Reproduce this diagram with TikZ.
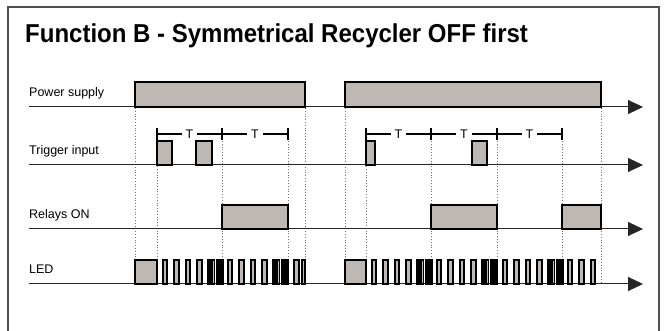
\documentclass[tikz,border=0pt]{standalone}
\usepackage{fontspec}
\setmainfont{Liberation Sans}
\usetikzlibrary{arrows.meta}
\definecolor{boxgray}{RGB}{189,184,179}
\definecolor{framegray}{RGB}{80,80,80}
\begin{document}
\begin{tikzpicture}[x=1pt,y=-1pt]
  \tikzstyle{signal}=[draw=black,line width=2pt,fill=boxgray]
  \tikzstyle{blink}=[draw=black,line width=2pt,fill=boxgray]
  \tikzstyle{fastblink}=[draw=black,line width=1.8pt,fill=boxgray]
  \tikzstyle{axis}=[draw=black!85,line width=1pt,-{Triangle[length=15pt,width=14pt]}]
  \tikzstyle{guide}=[draw=black!55,line width=0.8pt,dotted]
  \tikzstyle{tbar}=[draw=black,line width=2pt]
  \tikzstyle{lbl}=[anchor=base west,inner sep=0pt,font=\fontsize{12.5}{14}\selectfont]
  \tikzstyle{tlbl}=[inner sep=3.5pt,font=\fontsize{12.5}{14}\selectfont]
  \useasboundingbox (0,0) rectangle (667,331);
  % frame and title
  \draw[framegray,line width=2pt] (8,335) -- (8,7) -- (659,7) -- (659,335);
  \node[anchor=base west,inner sep=0pt,font=\bfseries\fontsize{24}{28}\selectfont,yscale=1.08] (title) at (25,43)
    {Function B - Symmetrical Recycler OFF first};
  % dotted guides
  \foreach \x in {135,305,345}
    \draw[guide] (\x,108) -- (\x,259);
  \draw[guide] (601,108) -- (601,284);
  \foreach \x in {157,222,288,366,431,497,562}
    \draw[guide] (\x,141) -- (\x,259);
  % time axes
  \foreach \name/\y/\txt in {ps/107/Power supply,trig/165/Trigger input,rel/229/Relays ON,led/284/LED} {
    \coordinate (\name-a) at (29,\y);
    \coordinate (\name-b) at (643,\y);
    \node[lbl] (\name-lbl) at (29,\y-10) {\txt};
    \draw[axis] (\name-a) -- (\name-b);
  }
  % power supply
  \draw[signal] (135,82) rectangle (305,107);
  \draw[signal] (345,82) rectangle (601,107);
  % trigger input
  \foreach \a/\b in {157/172,196/212,366/375,472/487}
    \draw[signal] (\a,141) rectangle (\b,165);
  % T intervals
  \foreach \a/\b [count=\i] in {157/222,222/288,366/431,431/497,497/562} {
    \coordinate (ta\i) at (\a,134);
    \coordinate (tb\i) at (\b,134);
    \node[tlbl] (t\i) at ({(\a+\b)/2},134) {T};
    \draw[tbar] (ta\i) -- (t\i.west);
    \draw[tbar] (t\i.east) -- (tb\i);
    \draw[tbar] (\a,128) -- (\a,140);
    \draw[tbar] (\b,128) -- (\b,140);
  }
  % relays
  \draw[signal] (222,205) rectangle (288,229);
  \draw[signal] (431,205) rectangle (497,229);
  \draw[signal] (562,205) rectangle (601,229);
  % LED
  \draw[signal] (135,260) rectangle (157,284);
  \draw[signal] (345,260) rectangle (366,284);
  \foreach \s in {157,222,366,431,497} {
    \foreach \k in {0,...,3}
      \draw[blink] ({\s+5.5+\k*11.5},260) rectangle ++(4.5,24);
    \foreach \k in {0,...,3}
      \draw[fastblink] ({\s+51+\k*4.3},260) rectangle ++(2.2,24);
  }
  \draw[blink] (294,260) rectangle ++(4.5,24);
  \draw[blink] (302,260) rectangle (304.5,284);
  \foreach \k in {0,...,2}
    \draw[blink] ({567.5+\k*11.5},260) rectangle ++(4.5,24);
\end{tikzpicture}
\end{document}
